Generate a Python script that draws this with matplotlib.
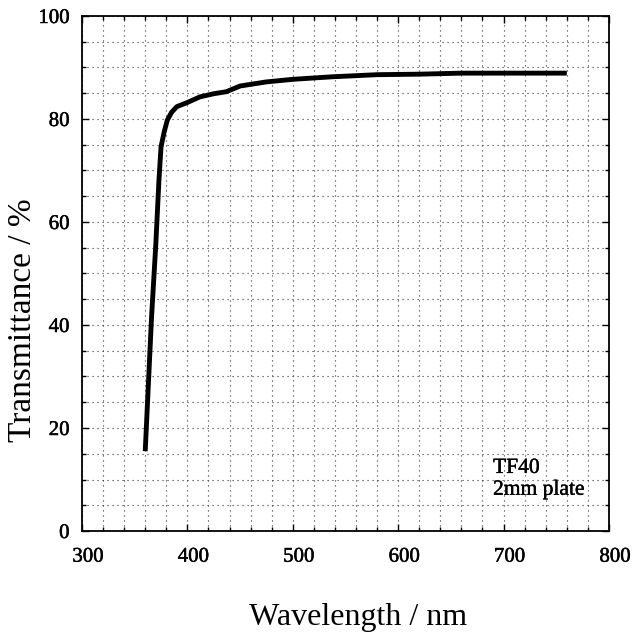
import matplotlib
matplotlib.use("Agg")
import matplotlib.pyplot as plt
import matplotlib.transforms as mtransforms
import matplotlib.patheffects as pe
from matplotlib.ticker import MultipleLocator

# TF40 glass, 2 mm plate: transmittance curve
wavelength = [360, 363, 366, 370, 373, 375, 378, 381, 385, 390, 400, 412,
              425, 437, 450, 475, 500, 538, 580, 620, 660, 700, 760]
transmittance = [15.5, 28.5, 41.5, 55.5, 68.0, 74.6, 77.5, 79.8, 81.3, 82.4,
                 83.2, 84.3, 84.9, 85.3, 86.4, 87.2, 87.7, 88.2, 88.6, 88.7,
                 88.9, 88.9, 88.9]

x_ticks = [300, 400, 500, 600, 700, 800]
y_ticks = [0, 20, 40, 60, 80, 100]

plt.rcParams["font.family"] = ["Liberation Serif", "DejaVu Serif"]


def heavy(w):
    # thicken glyph strokes a little
    return [pe.withStroke(linewidth=w, foreground="black")]


fig = plt.figure(figsize=(6.37, 6.39), dpi=100)
ax = fig.add_axes([0.1287, 0.169, 0.8273, 0.806])

ax.plot(wavelength, transmittance, color="black", lw=3.5,
        solid_capstyle="butt", zorder=3)

ax.set_xlim(300, 800)
ax.set_ylim(0, 100)
ax.set_xticks(x_ticks)
ax.set_yticks(y_ticks)
ax.xaxis.set_minor_locator(MultipleLocator(20))
ax.yaxis.set_minor_locator(MultipleLocator(5))

# dotted grid at every minor step
ax.grid(which="both", color="0.2", lw=0.8, linestyle=(0, (1, 3.5)))
ax.set_axisbelow(True)

ax.tick_params(which="both", direction="in", top=True, right=True,
               color="black", width=1.0)
ax.tick_params(which="major", length=5)
ax.tick_params(which="minor", length=3)
ax.tick_params(axis="x", which="major", labelsize=15, pad=12)
ax.tick_params(axis="y", which="major", labelsize=15, pad=9)

# nudge x tick labels slightly right
offset = mtransforms.ScaledTranslation(6 / 100, 0, fig.dpi_scale_trans)
for lbl in ax.get_xticklabels():
    lbl.set_transform(lbl.get_transform() + offset)
for lbl in ax.get_xticklabels() + ax.get_yticklabels():
    lbl.set_path_effects(heavy(0.35))

for side in ax.spines.values():
    side.set_linewidth(1.3)
    side.set_color("black")

ax.text(690, 14.0, "TF40\n2mm plate", fontsize=15.5, va="top", ha="left",
        linespacing=1.2, path_effects=heavy(0.3))

fig.text(0.036, 0.499, "Transmittance / %", rotation=90, fontsize=24,
         ha="center", va="center")
fig.text(0.562, 0.033, "Wavelength / nm", fontsize=23, ha="center",
         va="center")

fig.savefig("out.png", dpi=100)
